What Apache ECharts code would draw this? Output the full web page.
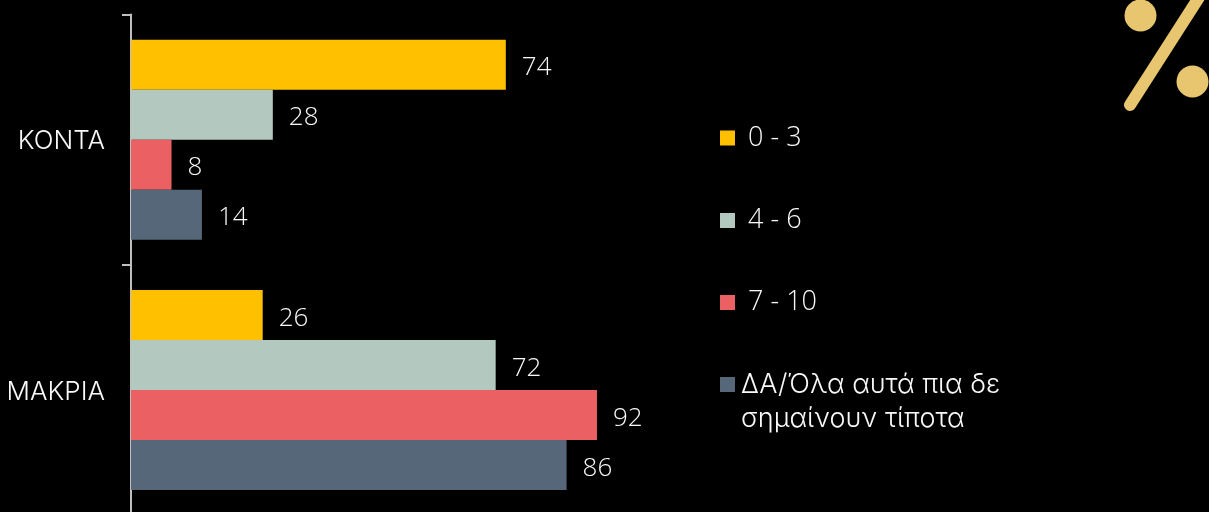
<!DOCTYPE html>
<html><head><meta charset="utf-8">
<style>html,body{margin:0;padding:0;background:#000;overflow:hidden;height:512px}#c{width:1209px;height:530px}</style>
<script src="https://cdn.jsdelivr.net/npm/echarts@6/dist/echarts.min.js"></script>
</head><body><div id="c"></div>
<script>
const categories = ['ΚΟΝΤΑ', 'ΜΑΚΡΙΑ'];
const seriesNames = ['0 - 3', '4 - 6', '7 - 10', 'ΔΑ/Όλα αυτά πια δε'];
const legendSecondLine = 'σημαίνουν τίποτα';
const values03 = [74, 26];
const values46 = [28, 72];
const values710 = [8, 92];
const valuesDA = [14, 86];
const colors = ['#FFC000', '#B3C9BF', '#EA6063', '#566779'];
const allValues = [values03, values46, values710, valuesDA];

const font = '"Open Sans", "Noto Sans", sans-serif';
const wide = 'Inter, "Open Sans", sans-serif';
const textColor = '#f8f8f8';
const legendPos = [[720, 120.5], [720, 203], [720, 285], [720, 369]];
const legendGaps = [13, 13, 13, 6];
const legendFonts = [font, font, font, wide];
const legendSizes = [27, 27, 27, 27];
const legendPadTop = [6, 6, 6, 2];
const labelOffsetsY = [2.5, 4];

const chart = echarts.init(document.getElementById('c'), null, {renderer: 'canvas'});
chart.setOption({
  backgroundColor: '#000',
  animation: false,
  grid: {left: 131, top: 14.5, width: 506.5, height: 500.5, containLabel: false},
  xAxis: {type: 'value', min: 0, max: 100, show: false},
  yAxis: {
    type: 'category', data: categories, inverse: true,
    axisLine: {show: true, lineStyle: {color: '#bfbfbf', width: 2}},
    axisTick: {show: true, length: 9, lineStyle: {color: '#bfbfbf', width: 2}},
    axisLabel: {color: textColor, fontFamily: wide, fontSize: 26, fontWeight: 300, margin: 26, verticalAlign: 'top', lineHeight: 4}
  },
  legend: seriesNames.map((n, i) => ({
    data: [n], orient: 'vertical', left: legendPos[i][0], top: legendPos[i][1], padding: 0,
    itemWidth: 15, itemHeight: 15, itemGap: 0, icon: 'rect', selectedMode: false,
    align: 'left',
    textStyle: {color: textColor, fontFamily: legendFonts[i], fontSize: legendSizes[i], fontWeight: 300, lineHeight: 29, padding: [legendPadTop[i], 0, 0, legendGaps[i] - 5]}
  })),
  series: seriesNames.map((n, i) => ({
    type: 'bar', name: n, barWidth: 50, barGap: '0%',
    data: allValues[i].map((v, j) => ({value: v, label: {offset: [0, labelOffsetsY[j]]}})),
    itemStyle: {color: colors[i]},
    label: {show: true, position: 'right', distance: 16, color: textColor, fontFamily: font, fontSize: 26, fontWeight: 300}
  })),
  graphic: [
    {type: 'text', left: 741, top: 405, style: {text: legendSecondLine, fill: textColor, font: '300 27px ' + wide}},
    {type: 'line', shape: {x1: 1130, y1: 105, x2: 1205, y2: -12}, style: {stroke: '#E8C56F', lineWidth: 12, lineCap: 'round'}},
    {type: 'circle', shape: {cx: 1140.5, cy: 15.5, r: 16}, style: {fill: '#E8C56F'}},
    {type: 'circle', shape: {cx: 1192.5, cy: 81.5, r: 16}, style: {fill: '#E8C56F'}}
  ]
});
</script></body></html>
